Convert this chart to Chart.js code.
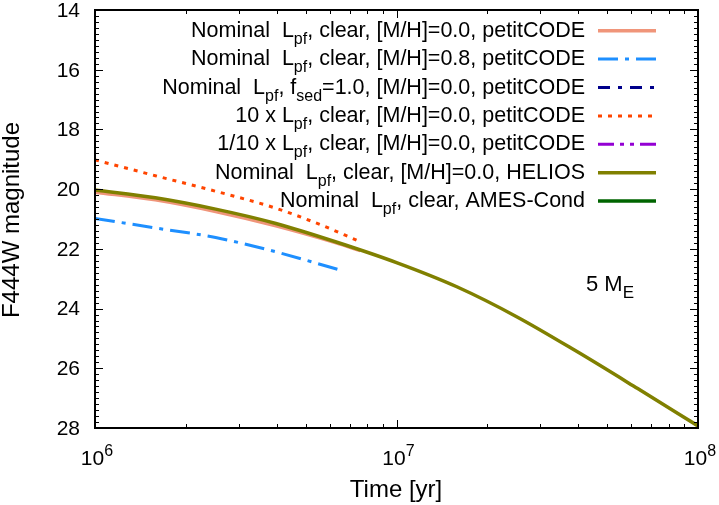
<!DOCTYPE html>
<html>
<head>
<meta charset="utf-8">
<script src="https://cdn.jsdelivr.net/npm/chart.js@4/dist/chart.umd.min.js"></script>
<style>
  html, body { margin: 0; padding: 0; background: #fff; }
  #wrap { width: 719px; height: 505px; position: relative; }
</style>
</head>
<body>
<div id="wrap"><canvas id="c" width="719" height="505"></canvas></div>
<script>
// ---- Data (log10 of time in yr, F444W magnitude) ----
const seriesLabels = [
  "Nominal  L_{pf}, clear, [M/H]=0.0, petitCODE",
  "Nominal  L_{pf}, clear, [M/H]=0.8, petitCODE",
  "Nominal  L_{pf}, f_{sed}=1.0, [M/H]=0.0, petitCODE",
  "10 x L_{pf}, clear, [M/H]=0.0, petitCODE",
  "1/10 x L_{pf}, clear, [M/H]=0.0, petitCODE",
  "Nominal  L_{pf}, clear, [M/H]=0.0, HELIOS",
  "Nominal  L_{pf}, clear, AMES-Cond"
];

const nominalLogT = [6.0, 6.2, 6.4, 6.6, 6.8, 6.88];
const nominalMag  = [20.1, 20.36, 20.75, 21.23, 21.8, 22.06];

const metalLogT = [6.0, 6.2, 6.4, 6.6, 6.81];
const metalMag  = [20.98, 21.3, 21.62, 22.1, 22.7];

const fsedLogT = [];
const fsedMag  = [];

const tenxLogT = [6.0, 6.2, 6.4, 6.6, 6.75, 6.87];
const tenxMag  = [19.02, 19.55, 20.07, 20.64, 21.2, 21.72];

const tenthLogT = [];
const tenthMag  = [];

const heliosLogT = [6.0, 6.2, 6.4, 6.6, 6.8, 7.0, 7.2, 7.4, 7.6, 7.8, 8.0];
const heliosMag  = [20.03, 20.29, 20.67, 21.15, 21.77, 22.46, 23.27, 24.28, 25.45, 26.68, 27.93];

const amesLogT = [];
const amesMag  = [];

const yTicks = [14, 16, 18, 20, 22, 24, 26, 28];
const xTickExps = [6, 7, 8];
const xAxisTitle = "Time [yr]";
const yAxisTitle = "F444W magnitude";
const annotation = "5 M_{E}";

// ---- Build datasets ----
function pts(lt, m) { return lt.map((v, i) => ({ x: Math.pow(10, v), y: m[i] })); }

const styles = [
  { color: "#f0957a", width: 3.5, dash: [] },
  { color: "#1e8fff", width: 3, dash: [20, 7, 4, 7] },
  { color: "#00008b", width: 3, dash: [12, 8, 4, 8] },
  { color: "#ff4500", width: 3, dash: [4, 6] },
  { color: "#9400d3", width: 3, dash: [16, 6, 4, 6, 4, 6] },
  { color: "#808000", width: 3.5, dash: [] },
  { color: "#006400", width: 3.5, dash: [] }
];
const dataLists = [
  pts(nominalLogT, nominalMag),
  pts(metalLogT, metalMag),
  pts(fsedLogT, fsedMag),
  pts(tenxLogT, tenxMag),
  pts(tenthLogT, tenthMag),
  pts(heliosLogT, heliosMag),
  pts(amesLogT, amesMag)
];

const datasets = dataLists.map((d, i) => ({
  label: seriesLabels[i],
  data: d,
  borderColor: styles[i].color,
  borderWidth: styles[i].width,
  borderDash: styles[i].dash,
  pointRadius: 0,
  fill: false,
  cubicInterpolationMode: 'monotone',
  order: 10 - i,
  borderCapStyle: 'butt'
}));

// ---- Rich text helper: "_{...}" subscript, "^{...}" superscript ----
const FONT = "Liberation Sans, Arial, Helvetica, sans-serif";
function parseRich(s) {
  const out = [];
  const re = /([_^])\{([^}]*)\}/g;
  let last = 0, m;
  while ((m = re.exec(s)) !== null) {
    if (m.index > last) out.push({ t: s.slice(last, m.index), k: 'n' });
    out.push({ t: m[2], k: m[1] === '_' ? 'sub' : 'sup' });
    last = re.lastIndex;
  }
  if (last < s.length) out.push({ t: s.slice(last), k: 'n' });
  return out;
}
function richWidth(ctx, s, size) {
  let w = 0;
  for (const p of parseRich(s)) {
    ctx.font = (p.k === 'n' ? size : Math.round(size * 0.75)) + "px " + FONT;
    w += ctx.measureText(p.t).width;
  }
  return w;
}
function drawRich(ctx, s, x, y, size, align) {
  const w = richWidth(ctx, s, size);
  let cx = align === 'right' ? x - w : (align === 'center' ? x - w / 2 : x);
  ctx.textAlign = 'left';
  ctx.textBaseline = 'alphabetic';
  for (const p of parseRich(s)) {
    let dy = 0, sz = size;
    if (p.k === 'sub') { sz = Math.round(size * 0.75); dy = size * 0.33; }
    if (p.k === 'sup') { sz = Math.round(size * 0.75); dy = -size * 0.45; }
    ctx.font = sz + "px " + FONT;
    ctx.fillText(p.t, cx, y + dy);
    cx += ctx.measureText(p.t).width;
  }
}

// ---- Plugin: frame, ticks, labels, legend ----
const gnuplotLook = {
  id: 'gnuplotLook',
  afterDatasetsDraw(chart) {
    const ctx = chart.ctx;
    const a = chart.chartArea;
    const xs = chart.scales.x, ys = chart.scales.y;
    ctx.save();
    ctx.fillStyle = '#000';
    ctx.strokeStyle = '#000';

    // ticks
    ctx.lineWidth = 1;
    ctx.beginPath();
    for (let v = 14; v <= 28.0001; v += 0.2) {
      const vv = Math.round(v * 10) / 10;
      const py = Math.round(ys.getPixelForValue(vv)) + 0.5;
      const major = Math.abs(vv / 2 - Math.round(vv / 2)) < 1e-6;
      const len = major ? 8 : 4;
      ctx.moveTo(a.left, py); ctx.lineTo(a.left + len, py);
      ctx.moveTo(a.right, py); ctx.lineTo(a.right - len, py);
    }
    for (let e = 6; e <= 8; e++) {
      for (let k = 1; k <= 9; k++) {
        if (e === 8 && k > 1) break;
        const px = Math.round(xs.getPixelForValue(k * Math.pow(10, e))) + 0.5;
        const len = k === 1 ? 8 : 4;
        ctx.moveTo(px, a.bottom); ctx.lineTo(px, a.bottom - len);
        ctx.moveTo(px, a.top); ctx.lineTo(px, a.top + len);
      }
    }
    ctx.stroke();

    // frame
    ctx.lineWidth = 2;
    ctx.strokeRect(a.left, a.top, a.right - a.left, a.bottom - a.top);

    // y tick labels
    ctx.font = "21px " + FONT;
    ctx.textAlign = 'right';
    ctx.textBaseline = 'middle';
    for (const v of yTicks) {
      ctx.fillText(String(v), a.left - 15, ys.getPixelForValue(v) + 1);
    }
    // x tick labels
    for (const e of xTickExps) {
      const px = xs.getPixelForValue(Math.pow(10, e));
      drawRich(ctx, "10^{" + e + "}", px + 2, a.bottom + 37, 21, 'center');
    }
    // axis titles
    ctx.font = "24px " + FONT;
    ctx.textAlign = 'center';
    ctx.textBaseline = 'alphabetic';
    ctx.fillText(xAxisTitle, 396, 497);
    ctx.save();
    ctx.translate(19, 220);
    ctx.rotate(-Math.PI / 2);
    ctx.fillText(yAxisTitle, 0, 0);
    ctx.restore();

    // annotation
    drawRich(ctx, annotation, 586, 291, 22, 'left');

    // legend
    const rowY0 = 30.7, rowDy = 28.4;
    chart.data.datasets.forEach((ds, i) => {
      const y = rowY0 + i * rowDy;
      ctx.fillStyle = '#000';
      drawRich(ctx, ds.label, 585, y + 6, 21.5, 'right');
      ctx.save();
      ctx.strokeStyle = ds.borderColor;
      ctx.lineWidth = ds.borderWidth;
      ctx.setLineDash(ds.borderDash || []);
      ctx.beginPath();
      ctx.moveTo(598, y); ctx.lineTo(656, y);
      ctx.stroke();
      ctx.restore();
    });
    ctx.restore();
  }
};

new Chart(document.getElementById('c'), {
  type: 'line',
  data: { datasets },
  options: {
    responsive: false,
    animation: false,
    layout: { padding: { left: 95, right: 21, top: 10, bottom: 77 } },
    plugins: { legend: { display: false }, tooltip: { enabled: false } },
    scales: {
      x: { type: 'logarithmic', min: 1e6, max: 1e8, display: false },
      y: { type: 'linear', min: 14, max: 28, reverse: true, display: false }
    }
  },
  plugins: [gnuplotLook]
});
</script>
</body>
</html>
